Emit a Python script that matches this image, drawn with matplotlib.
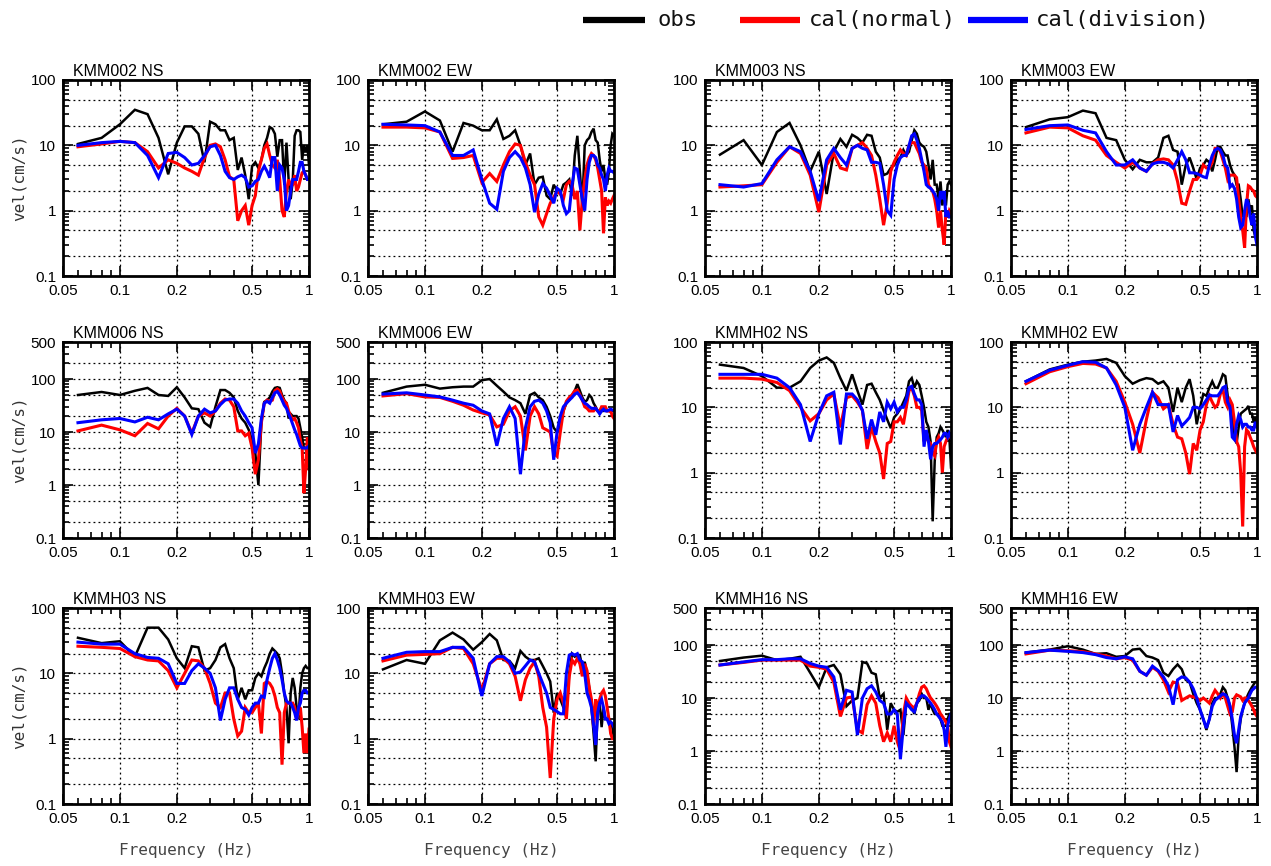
import matplotlib
matplotlib.use("Agg")
import matplotlib.pyplot as plt
from matplotlib.lines import Line2D
from matplotlib.ticker import FixedLocator, NullFormatter

# ---------------- data ----------------
freq = [0.06, 0.08, 0.10, 0.12, 0.14, 0.16, 0.18, 0.20, 0.22, 0.24, 0.26, 0.28,
        0.30, 0.32, 0.34, 0.36, 0.38, 0.40, 0.42, 0.44, 0.46, 0.48, 0.50, 0.52,
        0.54, 0.56, 0.58, 0.60, 0.62, 0.64, 0.66, 0.68, 0.70, 0.72, 0.74, 0.76,
        0.78, 0.80, 0.82, 0.84, 0.86, 0.88, 0.90, 0.92, 0.94, 0.96, 0.98, 1.00]

series_names = ["obs", "cal(normal)", "cal(division)"]
panel_titles = ["KMM002 NS", "KMM002 EW", "KMM003 NS", "KMM003 EW",
                "KMM006 NS", "KMM006 EW", "KMMH02 NS", "KMMH02 EW",
                "KMMH03 NS", "KMMH03 EW", "KMMH16 NS", "KMMH16 EW"]
panel_ymax = [100, 100, 100, 100, 500, 500, 100, 100, 100, 100, 500, 500]
x_ticks = [0.05, 0.1, 0.2, 0.5, 1]
x_ticklabels = ["0.05", "0.1", "0.2", "0.5", "1"]

kmm002_ns_obs = [10.5, 13, 21, 35, 30, 13, 3.6, 11, 19.5, 19.5, 15, 5.5, 23, 21, 17, 17, 12, 13,
                 4.2, 6.5, 3.5, 1.5, 4.8, 5.5, 4.5, 6, 10, 13, 19, 18, 15, 6.7, 12, 12, 2.5, 11,
                 3, 1.5, 2.8, 14, 17, 17, 16, 6, 10, 8, 10, 5]
kmm002_ns_nrm = [9.5, 10.5, 11.5, 11, 8, 4.5, 6, 5.3, 4.5, 4, 3.5, 6.5, 10, 10.5, 9.5, 6, 3.3, 3,
                 0.7, 1.0, 1.2, 0.6, 1.2, 1.7, 4, 6, 9, 10.5, 7, 5, 4.5, 6, 3, 1, 0.8, 2,
                 3, 2.5, 2.5, 3.5, 2, 2.3, 3, 3.8, 4, 3.5, 3, 3]
kmm002_ns_div = [10, 11, 11.5, 11, 7, 3.2, 7.5, 7.8, 6.5, 5, 5.3, 7, 9.5, 10, 7, 4, 3.2, 3,
                 3.3, 3.5, 3.2, 2.3, 2.4, 2.8, 3, 4, 4.8, 4, 3.2, 6.5, 6.5, 2, 5, 4.5, 3, 1,
                 1.2, 2, 3, 3, 3, 4, 5.5, 5.5, 4, 3.5, 3, 3]

kmm002_ew_obs = [21, 23, 33, 24, 8, 22, 20, 17, 17, 25, 12.5, 14, 17, 10, 5, 7.5, 2.5, 3.2,
                 3.3, 1.7, 1.5, 2.5, 2, 1.8, 2.5, 2.7, 3, 1.7, 7, 14, 4, 1.2, 10, 12, 13, 16,
                 18, 12, 11, 6, 4, 5, 3, 2.5, 4, 10, 15, 14]
kmm002_ew_nrm = [19, 19, 18.5, 16, 6.3, 6.5, 7, 2.7, 3.7, 2.8, 5, 8, 10.5, 10, 5.5, 3.5, 2.5, 0.8,
                 0.6, 0.9, 1.3, 1.6, 2, 1.8, 1.5, 2.5, 2.8, 2.5, 1.5, 2, 0.5, 1.5, 3, 5, 6.5, 7.5,
                 7, 6, 4.5, 3, 2, 0.45, 1.6, 1.2, 1.4, 1.3, 1.5, 1.7]
kmm002_ew_div = [21, 20.5, 20, 16, 7, 7, 8.5, 3, 1.3, 1.05, 4, 6.5, 8, 6.5, 4.5, 2.5, 0.95, 1.8,
                 2.6, 2.2, 1.7, 1.3, 2.2, 2, 1.2, 0.9, 1, 2.5, 4.5, 4.3, 2.5, 1.5, 1, 3, 5.5, 7,
                 7, 6.5, 5, 4.5, 3.5, 3, 2, 3.5, 4.5, 4, 4, 3.8]

kmm003_ns_obs = [7.2, 12, 5, 16, 22, 10, 4, 8, 1.8, 8, 12.5, 9.5, 14.5, 13, 11, 14.5, 14, 8,
                 6.5, 3.5, 3.7, 4.5, 5, 6, 6.5, 8.5, 7, 8, 12, 17, 15, 11, 10, 9.5, 8, 5,
                 3, 6, 2.5, 2.5, 1.5, 2.8, 1.2, 1.8, 1.2, 2.5, 2.8, 2.5]
kmm003_ns_nrm = [2.3, 2.4, 2.5, 5.5, 9.5, 7.5, 3.5, 0.95, 5, 7.5, 4.5, 4.2, 9, 10, 11, 9, 7, 3.5,
                 1.5, 0.6, 1.3, 4, 5.5, 7, 8.5, 7.5, 7, 10, 11, 11, 9, 7.5, 5.5, 5, 4.5, 2.5,
                 2.2, 2, 1.5, 1, 0.55, 1, 0.5, 0.3, 1, 0.8, 1, 0.9]
kmm003_ns_div = [2.5, 2.3, 2.6, 6, 9.5, 8, 4, 1.4, 6, 9, 6.5, 5, 9, 10, 9, 8.5, 5.5, 5.5,
                 5.3, 2.5, 1, 0.85, 3, 5, 6.5, 7, 7, 10, 14, 15, 12, 9, 6, 4, 2.5, 2.3,
                 2.2, 2, 1.8, 1.5, 1, 2, 1.5, 2, 0.8, 1, 0.8, 0.8]

kmm003_ew_obs = [19, 25, 27, 34, 31, 13, 12, 6, 4.3, 6, 5.5, 5.5, 6.5, 13, 14, 8.5, 8, 2.5,
                 5, 6.5, 4.5, 3, 4.5, 5, 6, 5.5, 4, 6, 9.5, 9.5, 8, 7, 7, 5, 4, 3.5,
                 2.5, 2.5, 1.5, 0.8, 1, 0.8, 1.5, 1, 1.2, 0.5, 0.4, 0.5]
kmm003_ew_nrm = [15.5, 19, 18.5, 14, 12, 7, 5.5, 4.5, 5.5, 4.5, 4, 5.2, 6, 6.2, 6, 5, 2.8, 1.3,
                 1.25, 2, 3, 3, 3.5, 5, 4.5, 4.5, 5.5, 9, 9, 8, 6, 4.5, 3, 3.5, 3.5, 3.5,
                 3.2, 1.5, 0.8, 0.5, 0.27, 1.2, 2.4, 2.3, 2.1, 2, 1.7, 1.6]
kmm003_ew_div = [17.5, 20, 20.5, 17, 15.5, 8, 5, 5, 6, 4.5, 4, 5.2, 5.5, 5.5, 5.2, 4.5, 6, 8,
                 6, 3.8, 3.8, 3.7, 3.5, 3.3, 3.2, 5, 7, 8.5, 9, 8.5, 7, 5, 4.5, 2.3, 2.5, 2.2,
                 1.5, 0.8, 0.55, 0.6, 1, 1.5, 1.3, 0.8, 0.6, 0.9, 0.4, 0.3]

kmm006_ns_obs = [50, 57, 50, 60, 68, 50, 48, 70, 45, 28, 27, 15, 12.5, 30, 62, 62, 55, 45,
                 25, 18, 15, 11, 7, 4, 1, 15, 37, 40, 45, 58, 68, 70, 68, 50, 40, 35,
                 18, 22, 20, 20, 20, 18, 12, 8, 5, 5, 3, 2]
kmm006_ns_nrm = [10.5, 13.5, 11, 8.5, 14.5, 11.5, 20, 28, 20, 9.5, 20, 23, 20, 25, 35, 42, 40, 30,
                 10.5, 10.5, 8.5, 9.5, 5, 1.6, 3, 15, 35, 40, 38, 40, 60, 65, 60, 45, 38, 35,
                 25, 20, 17, 18, 15, 12, 7, 5, 0.7, 2, 8, 2]
kmm006_ns_div = [15, 17, 18, 15.5, 19, 17, 22, 27, 20, 9, 20, 27, 23, 25, 33, 40, 42, 42,
                 35, 25, 20, 15, 12, 4, 6, 18, 35, 38, 35, 45, 55, 58, 50, 40, 32, 28,
                 22, 18, 14, 11, 9, 7, 5.5, 5, 5, 5, 5, 5.5]

kmm006_ew_obs = [55, 72, 78, 66, 70, 72, 72, 95, 100, 75, 58, 45, 40, 35, 22, 50, 55, 45,
                 40, 30, 20, 12, 10, 13, 25, 35, 40, 50, 60, 80, 60, 45, 37, 40, 50, 45,
                 35, 30, 25, 23, 25, 25, 27, 25, 25, 25, 25, 25]
kmm006_ew_nrm = [48, 53, 46, 45, 38, 32, 26, 23, 21, 12.5, 14, 25, 30, 20, 4.5, 20, 30, 22,
                 12, 11, 10, 4, 3.5, 10, 25, 38, 45, 50, 60, 62, 50, 40, 30, 28, 25, 25,
                 25, 28, 25, 25, 30, 30, 30, 25, 25, 25, 20, 18]
kmm006_ew_div = [52, 55, 50, 46, 40, 35, 32, 25, 22, 5.5, 18, 30, 18, 1.6, 12, 30, 38, 40,
                 35, 25, 15, 3, 10, 20, 30, 35, 40, 45, 52, 55, 48, 40, 35, 33, 30, 28,
                 28, 28, 25, 22, 25, 27, 25, 25, 26, 27, 26, 26]

kmmh02_ns_obs = [45, 40, 30, 20, 20, 25, 40, 52, 58, 48, 28, 18, 32, 18, 11, 22, 23, 17,
                 13, 9, 6.5, 4.8, 7, 8, 9.5, 12, 15, 25, 28, 20, 25, 22, 15, 10, 6, 5,
                 3, 0.18, 1.5, 3.5, 4, 5, 4.5, 4, 3.5, 4.5, 3.5, 1.2]
kmmh02_ns_nrm = [28, 28, 27, 24, 18, 10, 6.2, 8, 13, 16, 5, 14, 15, 12, 9, 2.3, 5, 3,
                 2, 0.8, 2.8, 3, 6, 6, 7, 5.5, 10, 18, 20, 15, 10, 10, 9, 3, 3.5, 3,
                 2.8, 2, 1.8, 3, 3.5, 2.8, 1, 2.5, 3, 3.5, 3.5, 3.5]
kmmh02_ns_div = [32, 32, 32, 28, 20, 11, 3, 8, 15, 17, 2.7, 16, 16, 13, 9, 3.3, 6.5, 3.8,
                 8.5, 6, 12, 9.5, 12, 8.5, 10, 10, 13, 20, 21, 16, 13, 13, 11, 2.5, 4.5, 3,
                 1.6, 2.5, 2.8, 2.8, 3, 3.2, 3.5, 4, 4, 3.5, 4, 3.5]

kmmh02_ew_obs = [25, 38, 45, 50, 52, 55, 48, 30, 23, 26, 28, 27, 23, 25, 20, 8.5, 20, 12,
                 20, 27, 15, 5.5, 10, 16, 15, 20, 25, 20, 20, 25, 32, 30, 15, 10, 7, 3.5,
                 2.8, 5, 8, 8.5, 9, 9.5, 10.5, 8, 8, 6, 7, 5]
kmmh02_ew_nrm = [23, 35, 42, 47, 46, 40, 25, 12, 5.5, 2, 6.5, 17, 14, 9.5, 11, 5.5, 3.5, 3.3,
                 2, 0.95, 2.8, 2.2, 4.5, 6, 11, 15, 12, 10, 11, 16, 19, 12, 10, 13, 11, 6,
                 3, 2.5, 1, 0.15, 2.5, 4.5, 4.2, 3.5, 3, 2.5, 2.2, 2]
kmmh02_ew_div = [25, 37, 44, 50, 49, 40, 22, 10, 2.2, 5.5, 10, 17, 11, 11, 11, 4.2, 7.5, 5.2,
                 6, 7, 10, 10, 9.5, 11, 13, 15.5, 15, 15, 15, 17, 20, 21, 12, 10, 3.5, 3.2,
                 5.5, 7.5, 6.5, 5, 5.5, 5.5, 5, 5, 4.5, 4.5, 6, 5]

kmmh03_ns_obs = [35, 29, 31, 18, 50, 50, 33, 17, 12, 26, 25, 11, 12, 16, 25, 28, 17, 12,
                 4, 6, 4, 5.5, 5.5, 8.5, 10, 9, 12, 15, 20, 24, 22, 20, 17, 10, 5, 3,
                 0.85, 5, 8.5, 6, 3, 2, 6, 10, 12, 13, 12, 12]
kmmh03_ns_nrm = [26, 25, 24, 18, 16, 15.5, 11, 6, 10, 16, 15.5, 12, 7, 3.5, 3, 5, 5, 2,
                 1.1, 1.3, 3, 2.5, 2.5, 3, 3.5, 1.2, 7, 7.5, 7, 6, 4.5, 3, 2.5, 0.4, 2.5, 3.5,
                 3.5, 3.5, 3.5, 3, 2, 2.5, 3, 1.5, 0.6, 1.2, 0.6, 1.4]
kmmh03_ns_div = [30, 28, 28, 20, 17.5, 17, 14, 7, 7, 11, 14, 12, 10, 6, 1.9, 4, 6, 6,
                 4, 3, 2.8, 2.3, 3, 3.5, 3.5, 4.5, 4.3, 8, 12, 17, 20, 16, 12, 8, 5, 3.8,
                 3.5, 3.5, 3, 2.5, 1.9, 3, 3.5, 5, 5.5, 5.5, 5, 5]

kmmh03_ew_obs = [11.5, 16, 14, 32, 42, 33, 23, 30, 40, 32, 16, 15.5, 12, 22, 18, 16, 16, 17,
                 13, 10, 7.5, 2.5, 5, 4, 3, 2.5, 10, 20, 18, 19, 19, 12, 15, 10, 6, 3,
                 1.2, 0.45, 3, 3.5, 1.5, 3, 2, 2, 2, 1.8, 1.5, 1]
kmmh03_ew_nrm = [15.5, 19, 19.5, 20, 25, 24, 14, 5.5, 14, 17, 17, 14, 9, 3.8, 8, 12, 15, 9,
                 3, 1.5, 0.25, 2, 4, 5, 3.5, 2, 9, 16, 14, 17, 14, 9, 14, 11, 6, 4,
                 1.5, 4, 2.8, 4, 5, 5.5, 4.5, 3, 2, 1.2, 1, 1]
kmmh03_ew_div = [17, 21, 21.5, 21.5, 25, 25, 17, 4.5, 14, 18, 18, 15, 10, 10.5, 13, 16, 15, 10,
                 7, 5, 3, 2.8, 2.6, 2.4, 2.4, 10, 19, 20, 19, 20, 16, 15, 10, 5, 4, 3,
                 1.6, 0.8, 2.5, 3.5, 4, 3, 2, 2, 1.7, 1.8, 1.7, 1.5]

kmmh16_ns_obs = [50, 58, 63, 52, 55, 60, 30, 16, 38, 42, 28, 7, 9, 10, 48, 45, 30, 28,
                 10, 12, 2.5, 8, 6, 5.5, 6, 2, 8, 7, 7, 5, 8, 9, 12, 10, 10, 6,
                 8, 6, 5, 5, 5, 4, 3, 3, 3, 4, 5, 5]
kmmh16_ns_nrm = [42, 47, 52, 52, 52, 52, 40, 38, 35, 20, 4.5, 10, 10.5, 2.5, 2.2, 7.5, 11, 8,
                 3, 1.5, 2.2, 1.5, 3, 1.5, 1, 5, 10, 8, 7, 6.5, 8, 12, 16, 17, 15, 12,
                 10, 9, 8, 7, 6, 5, 4.5, 4, 3.5, 3, 1.5, 1.2]
kmmh16_ns_div = [42, 48, 53, 53, 55, 55, 45, 40, 38, 25, 6, 14, 13, 2, 10, 15, 17, 13,
                 9, 8, 5, 5, 6, 5, 0.7, 3, 8, 7, 6, 5.5, 8, 10, 11, 11, 10, 9,
                 8, 7, 6, 5, 4.5, 4, 3.5, 2.5, 1.2, 3, 4, 5]

kmmh16_ew_obs = [72, 82, 95, 82, 68, 70, 60, 62, 82, 85, 62, 58, 52, 30, 26, 35, 43, 35,
                 22, 20, 12, 8, 6, 4, 2.5, 4, 8, 10, 10, 12, 16, 14, 10, 7, 3, 1.2,
                 0.4, 2, 4, 6, 8, 10, 12, 14, 16, 18, 20, 20]
kmmh16_ew_nrm = [68, 80, 78, 75, 68, 62, 55, 58, 52, 32, 27, 38, 32, 22, 13, 20, 19, 9,
                 10, 11, 10.5, 10, 9, 10, 9, 8, 11, 14, 12, 10, 12, 10, 7, 5, 5.5, 10,
                 11.5, 11, 10.5, 9, 10, 10, 9, 8, 7, 6, 5, 4.5]
kmmh16_ew_div = [72, 80, 76, 72, 66, 58, 55, 60, 55, 32, 27, 40, 33, 25, 17, 7.5, 22, 25,
                 24, 20, 15, 10, 6, 4, 2.7, 4, 7, 9, 10, 11, 12, 11.5, 10, 7, 4, 2,
                 1.4, 2.5, 4.5, 6, 8, 9, 10, 12, 14, 15, 16, 16]

panel_data = [
    (kmm002_ns_obs, kmm002_ns_nrm, kmm002_ns_div),
    (kmm002_ew_obs, kmm002_ew_nrm, kmm002_ew_div),
    (kmm003_ns_obs, kmm003_ns_nrm, kmm003_ns_div),
    (kmm003_ew_obs, kmm003_ew_nrm, kmm003_ew_div),
    (kmm006_ns_obs, kmm006_ns_nrm, kmm006_ns_div),
    (kmm006_ew_obs, kmm006_ew_nrm, kmm006_ew_div),
    (kmmh02_ns_obs, kmmh02_ns_nrm, kmmh02_ns_div),
    (kmmh02_ew_obs, kmmh02_ew_nrm, kmmh02_ew_div),
    (kmmh03_ns_obs, kmmh03_ns_nrm, kmmh03_ns_div),
    (kmmh03_ew_obs, kmmh03_ew_nrm, kmmh03_ew_div),
    (kmmh16_ns_obs, kmmh16_ns_nrm, kmmh16_ns_div),
    (kmmh16_ew_obs, kmmh16_ew_nrm, kmmh16_ew_div),
]

# ---------------- style ----------------
colors = ["#000000", "#ff0000", "#0000ff"]
widths = [1.8, 2.2, 2.2]
W, H = 1271, 866
col_left = [63, 368, 705, 1011]
row_top = [80, 342, 608]
ax_w, ax_h = 246, 196
tick_font = ["Liberation Sans", "DejaVu Sans"]
label_font = ["DejaVu Sans Mono"]

fig = plt.figure(figsize=(W / 100, H / 100), dpi=100)

for i, title in enumerate(panel_titles):
    r, c = divmod(i, 4)
    ax = fig.add_axes([col_left[c] / W, 1 - (row_top[r] + ax_h) / H, ax_w / W, ax_h / H])
    ax.set_xscale("log")
    ax.set_yscale("log")
    for vals, col, lw in zip(panel_data[i], colors, widths):
        ax.plot(freq, vals, color=col, lw=lw, solid_joinstyle="miter")
    ax.set_xlim(0.05, 1)
    ymax = panel_ymax[i]
    ax.set_ylim(0.1, ymax)

    # x ticks
    ax.xaxis.set_major_locator(FixedLocator(x_ticks))
    ax.set_xticklabels(x_ticklabels)
    xminor = [m * 10 ** e for e in (-2, -1) for m in range(1, 10)]
    xminor = [v for v in xminor if 0.05 < v < 1 and v not in (0.1, 0.2, 0.5)]
    ax.xaxis.set_minor_locator(FixedLocator(xminor))
    ax.xaxis.set_minor_formatter(NullFormatter())

    # y ticks
    ymaj = [0.1, 1, 10, 100] + ([500] if ymax == 500 else [])
    ax.yaxis.set_major_locator(FixedLocator(ymaj))
    ax.set_yticklabels([("%g" % v) for v in ymaj])
    yminor = [m * 10 ** e for e in (-1, 0, 1, 2) for m in range(2, 10)]
    yminor = [v for v in yminor if v < ymax * 0.999]
    ax.yaxis.set_minor_locator(FixedLocator(yminor))
    ax.yaxis.set_minor_formatter(NullFormatter())

    # dotted grid
    for gx in (0.1, 0.2, 0.5):
        ax.axvline(gx, color="black", lw=0.9, ls=(0, (1.5, 2.5)), zorder=0)
    ygrid = [m * 10 ** e for e in (-1, 0, 1, 2) for m in (1, 2, 5)]
    for gy in ygrid:
        if 0.1 < gy < ymax * 0.999:
            ax.axhline(gy, color="black", lw=0.9, ls=(0, (1.5, 2.5)), zorder=0)

    ax.tick_params(which="both", direction="in", top=True, right=True,
                   width=1.2, colors="black")
    ax.tick_params(which="major", length=7, labelsize=11)
    ax.tick_params(axis="x", which="major", pad=6)
    ax.tick_params(axis="y", which="major", pad=5)
    ax.tick_params(which="minor", length=4)
    for lab in ax.get_xticklabels() + ax.get_yticklabels():
        lab.set_family(tick_font)
    for sp in ax.spines.values():
        sp.set_linewidth(2.0)

    ax.text(0.04, 1.004, title, transform=ax.transAxes, ha="left", va="bottom",
            fontsize=11.5, family=tick_font)

    if c == 0:
        ax.set_ylabel("vel(cm/s)", fontsize=11.5, family=label_font, color="#333333",
                      labelpad=3)
    if r == 2:
        ax.set_xlabel("Frequency (Hz)", fontsize=11.5, family=label_font, color="#444444",
                      labelpad=12)

# legend (drawn at the reference position)
leg_line_x = [(583, 645), (740, 800), (968, 1028)]
leg_text_x = [657, 809, 1036]
leg_y = 1 - 20 / H
for (x0, x1), tx, col, name in zip(leg_line_x, leg_text_x, colors, series_names):
    fig.add_artist(Line2D([x0 / W, x1 / W], [leg_y, leg_y], color=col, lw=4.5,
                          transform=fig.transFigure, solid_capstyle="butt"))
    fig.text(tx / W, leg_y, name, ha="left", va="center", fontsize=16,
             family=label_font, color="#111111")

fig.savefig("out.png", dpi=100)
